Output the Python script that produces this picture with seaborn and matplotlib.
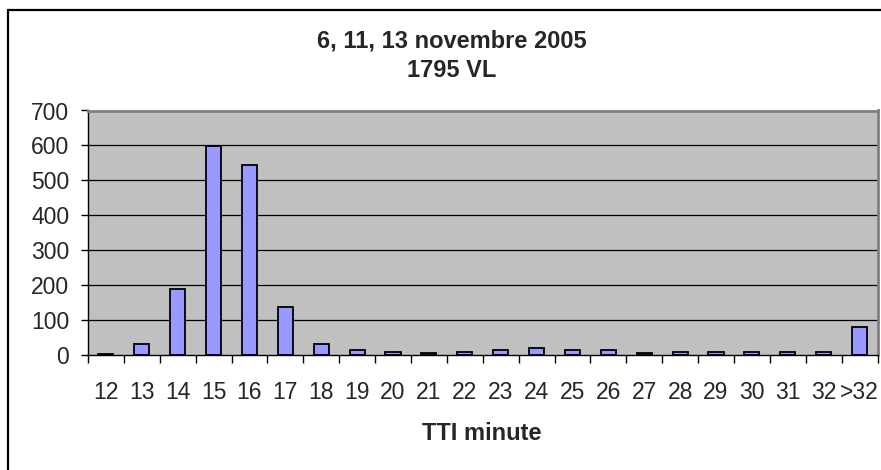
import matplotlib
matplotlib.use("Agg")
import matplotlib.pyplot as plt
from matplotlib.lines import Line2D
import seaborn as sns
import pandas as pd

# TTI (minutes) histogram, number of light vehicles per class
categories = ["12", "13", "14", "15", "16", "17", "18", "19", "20", "21", "22",
              "23", "24", "25", "26", "27", "28", "29", "30", "31", "32", ">32"]
counts = [3, 31, 190, 598, 545, 138, 31, 15, 10, 5, 10,
          15, 21, 15, 15, 5, 10, 10, 10, 10, 10, 79]
y_ticks = [0, 100, 200, 300, 400, 500, 600, 700]
title_lines = ["6, 11, 13 novembre 2005", "1795 VL"]
x_label = "TTI minute"

sns.set_theme(style="white")
plt.rcParams["font.family"] = ["Liberation Sans", "DejaVu Sans"]

W, H = 881, 470
fig = plt.figure(figsize=(W / 100, H / 100), dpi=100)
fig.patch.set_facecolor("white")

# plot area in pixel coordinates
left, right, top, bottom = 88, 877.5, 110.5, 355
ax = fig.add_axes([left / W, 1 - bottom / H, (right - left) / W, (bottom - top) / H])
ax.set_facecolor("#C0C0C0")

df = pd.DataFrame({"cat": categories, "n": counts})
sns.barplot(data=df, x="cat", y="n", order=categories, color="#9999FF",
            saturation=1, width=0.42, edgecolor="black", linewidth=1.3,
            ax=ax, zorder=3)

ax.set_xlim(-0.5, len(categories) - 0.5)
ax.set_ylim(0, 700)
ax.set_yticks(y_ticks)
ax.set_yticklabels([str(v) for v in y_ticks])
for v in y_ticks[1:-1]:
    ax.axhline(v, color="black", lw=0.9, zorder=1)

# category labels centred, tick marks between categories
ax.set_xticks(range(len(categories)))
ax.set_xticklabels(categories)
ax.set_xticks([i - 0.5 for i in range(len(categories) + 1)], minor=True)
ax.tick_params(axis="x", which="major", length=0, pad=19, labelsize=16.5)
ax.tick_params(axis="x", which="minor", length=6, width=1, color="black",
               direction="out", bottom=True)
ax.tick_params(axis="y", length=5, width=1, color="black", direction="out",
               left=True, pad=8.5, labelsize=16.5)
ax.set_xlabel("")
ax.set_ylabel("")

for side in ("left", "bottom"):
    ax.spines[side].set_color("black")
    ax.spines[side].set_linewidth(1)
    ax.spines[side].set_visible(True)
for side in ("top", "right"):
    ax.spines[side].set_color("#808080")
    ax.spines[side].set_linewidth(2)
    ax.spines[side].set_visible(True)

# chart title and axis title
fig.text(452 / W, 1 - 47.3 / H, title_lines[0], ha="center", va="baseline",
         fontsize=17, fontweight="bold")
fig.text(452 / W, 1 - 76.7 / H, title_lines[1], ha="center", va="baseline",
         fontsize=17, fontweight="bold")
fig.text(482 / W, 1 - 440 / H, x_label, ha="center",
         va="baseline", fontsize=17, fontweight="bold")

# chart frame
fig.add_artist(Line2D([7.5 / W, 1], [1 - 10 / H, 1 - 10 / H],
                      transform=fig.transFigure, color="black", lw=1.6))
fig.add_artist(Line2D([7.5 / W, 7.5 / W], [1 - 10 / H, 0],
                      transform=fig.transFigure, color="black", lw=1.6))

fig.savefig("out.png", dpi=100, facecolor="white")
